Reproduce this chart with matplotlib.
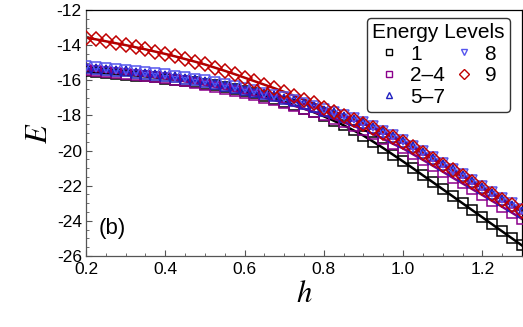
import numpy as np
import matplotlib
matplotlib.use("Agg")
import matplotlib.pyplot as plt
from matplotlib.lines import Line2D
from matplotlib.ticker import MultipleLocator

plt.rcParams["mathtext.fontset"] = "stix"

h = [0.200, 0.225, 0.250, 0.275, 0.300, 0.325, 0.350, 0.375, 0.400, 0.425,
     0.450, 0.475, 0.500, 0.525, 0.550, 0.575, 0.600, 0.625, 0.650, 0.675,
     0.700, 0.725, 0.750, 0.775, 0.800, 0.825, 0.850, 0.875, 0.900, 0.925,
     0.950, 0.975, 1.000, 1.025, 1.050, 1.075, 1.100, 1.125, 1.150, 1.175,
     1.200, 1.225, 1.250, 1.275, 1.300]

E1 = [-15.50, -15.54, -15.58, -15.63, -15.68, -15.73, -15.78, -15.84, -15.90, -15.97,
      -16.04, -16.12, -16.20, -16.29, -16.39, -16.50, -16.62, -16.75, -16.89, -17.05,
      -17.22, -17.41, -17.61, -17.82, -18.05, -18.30, -18.56, -18.85, -19.15, -19.50,
      -19.86, -20.24, -20.62, -21.01, -21.41, -21.80, -22.20, -22.60, -23.00, -23.40,
      -23.80, -24.20, -24.60, -25.00, -25.40]

E2_4 = [-15.42, -15.47, -15.52, -15.57, -15.63, -15.69, -15.75, -15.82, -15.89, -15.97,
        -16.06, -16.15, -16.26, -16.37, -16.49, -16.61, -16.73, -16.86, -16.99, -17.13,
        -17.28, -17.45, -17.62, -17.80, -18.00, -18.19, -18.39, -18.60, -18.81, -19.07,
        -19.34, -19.62, -19.88, -20.21, -20.53, -20.86, -21.20, -21.54, -21.87, -22.20,
        -22.53, -22.87, -23.20, -23.54, -23.89]

E5_7 = [-15.30, -15.35, -15.40, -15.45, -15.50, -15.56, -15.62, -15.68, -15.75, -15.83,
        -15.91, -16.00, -16.10, -16.21, -16.32, -16.43, -16.55, -16.67, -16.79, -16.92,
        -17.05, -17.20, -17.36, -17.53, -17.72, -17.89, -18.07, -18.26, -18.45, -18.70,
        -18.96, -19.23, -19.50, -19.82, -20.14, -20.47, -20.80, -21.13, -21.46, -21.79,
        -22.12, -22.46, -22.79, -23.13, -23.47]

E8 = [-15.20, -15.25, -15.30, -15.35, -15.41, -15.47, -15.53, -15.59, -15.66, -15.74,
      -15.82, -15.91, -16.01, -16.12, -16.23, -16.34, -16.46, -16.58, -16.70, -16.83,
      -16.96, -17.11, -17.27, -17.44, -17.62, -17.79, -17.97, -18.16, -18.35, -18.60,
      -18.86, -19.13, -19.40, -19.72, -20.04, -20.37, -20.70, -21.03, -21.36, -21.69,
      -22.02, -22.35, -22.68, -23.01, -23.35]

E9 = [-13.57, -13.67, -13.78, -13.89, -14.00, -14.12, -14.24, -14.37, -14.50, -14.64,
      -14.79, -14.94, -15.10, -15.28, -15.46, -15.65, -15.85, -16.05, -16.25, -16.45,
      -16.66, -16.88, -17.10, -17.32, -17.55, -17.78, -18.01, -18.24, -18.48, -18.73,
      -18.98, -19.24, -19.50, -19.82, -20.14, -20.47, -20.80, -21.13, -21.46, -21.79,
      -22.12, -22.45, -22.79, -23.12, -23.46]

labels = ["1", "2\u20134", "5\u20137", "8", "9"]
xticks = [0.2, 0.4, 0.6, 0.8, 1.0, 1.2]
yticks = [-26, -24, -22, -20, -18, -16, -14, -12]

fig = plt.figure(figsize=(5.23, 3.27), dpi=100)
ax = fig.add_axes([86/523, 1-256/327, 436/523, 246/327])

series = [
    (E1, "#000000", "s", 6.5, "#000000"),
    (E2_4, "#8b008b", "s", 6.5, "#800080"),
    (E5_7, "#2020c0", "^", 6.5, "#1a1acc"),
    (E8, "#5555ee", "v", 6.5, "#6060f0"),
    (E9, "#c00000", "D", 7.5, "#b00000"),
]

for E, mc, m, ms, lc in series:
    ax.plot(h, E, color=lc, lw=1.8, zorder=2, clip_on=True)
for E, mc, m, ms, lc in series:
    ax.plot(h, E, ls="none", marker=m, ms=ms, mfc="none", mec=mc, mew=1.1,
            zorder=3, clip_on=True)

ax.set_xlim(0.2, 1.3)
ax.set_ylim(-26, -12)
ax.set_xticks(xticks)
ax.set_yticks(yticks)
ax.set_xticklabels([f"{v:.1f}" for v in xticks])
ax.set_yticklabels([f"-{abs(v)}" for v in yticks])
ax.xaxis.set_minor_locator(MultipleLocator(0.05))
ax.yaxis.set_minor_locator(MultipleLocator(0.5))
ax.tick_params(which="both", direction="in", top=False, right=False,
               color="#555555", labelsize=12.5, labelcolor="black")
ax.tick_params(which="major", length=4, width=0.8)
ax.tick_params(which="minor", length=2, width=0.6)
for lab in ax.get_xticklabels() + ax.get_yticklabels():
    lab.set_family("Liberation Sans")
ax.tick_params(axis="x", pad=4)
ax.tick_params(axis="y", pad=3)
for s in ax.spines.values():
    s.set_color("#555555")
    s.set_linewidth(0.9)
ax.spines["top"].set_color("black")
ax.spines["right"].set_color("black")

ax.set_xlabel("$h$", fontsize=22, labelpad=2)
ax.set_ylabel("$E$", fontsize=22, labelpad=3)

ax.text(0.03, 0.07, "(b)", transform=ax.transAxes, fontsize=16,
        family="Liberation Sans", ha="left", va="bottom")

handles = []
for (E, mc, m, ms, lc), lab in zip(series, labels):
    handles.append(Line2D([], [], ls="none", marker=m, ms=5, mfc="none",
                          mec=mc, mew=1.0, label=lab))
leg = ax.legend(handles=handles, ncol=2, title="Energy Levels",
                loc="upper right", bbox_to_anchor=(0.982, 0.985),
                prop={"family": "Liberation Sans", "size": 15},
                title_fontproperties={"family": "Liberation Sans", "size": 15},
                frameon=True, fancybox=True, edgecolor="#333333", framealpha=1,
                handlelength=0.8, handletextpad=0.6, columnspacing=0.5,
                labelspacing=0.12, borderpad=0.25, borderaxespad=0.2)
leg.get_frame().set_linewidth(1.0)
leg.set_zorder(5)

fig.savefig("out.png", dpi=100)
